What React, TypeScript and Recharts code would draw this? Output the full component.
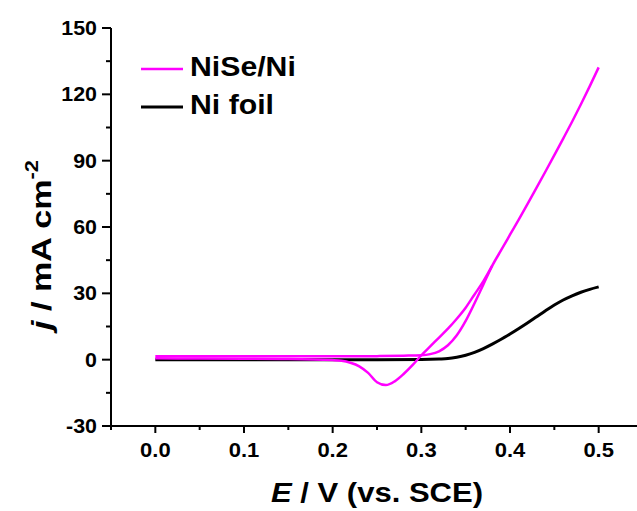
import React from 'react';
import { LineChart, Line, XAxis, YAxis, Legend } from 'recharts';

// NiSe/Ni, anodic sweep (0 -> 0.5 V)
const niseForwardE = [0, 0.05, 0.1, 0.15, 0.2, 0.25, 0.28, 0.3, 0.31, 0.32, 0.33, 0.34, 0.35, 0.36, 0.37, 0.38, 0.39, 0.4, 0.41, 0.42, 0.43, 0.44, 0.45, 0.46, 0.47, 0.48, 0.49, 0.5];
const niseForwardJ = [1.5, 1.5, 1.5, 1.5, 1.5, 1.6, 1.8, 2.0, 2.5, 3.8, 6.5, 11, 17.5, 25.5, 34, 42.5, 49.5, 56.5, 63.5, 70.6, 77.8, 85.1, 92.5, 100, 107.6, 115.5, 123.7, 132.2];

// NiSe/Ni, cathodic sweep (0.5 -> 0 V), listed by rising E
const niseReverseE = [0, 0.05, 0.1, 0.15, 0.2, 0.21, 0.22, 0.23, 0.24, 0.25, 0.26, 0.27, 0.28, 0.29, 0.3, 0.31, 0.32, 0.33, 0.34, 0.35, 0.36, 0.37, 0.38];
const niseReverseJ = [0.6, 0.5, 0.4, 0.3, -0.2, -0.5, -1.4, -3, -6, -10.2, -11.5, -9.8, -6.5, -2.5, 2, 6, 10, 14, 18.5, 23.5, 29.5, 35.5, 42.5];

// Ni foil
const niFoilE = [0, 0.05, 0.1, 0.15, 0.2, 0.25, 0.3, 0.32, 0.33, 0.34, 0.35, 0.36, 0.37, 0.38, 0.39, 0.4, 0.41, 0.42, 0.43, 0.44, 0.45, 0.46, 0.47, 0.48, 0.49, 0.5];
const niFoilJ = [0, 0, 0, 0, 0, 0, 0.1, 0.3, 0.5, 1.1, 2, 3.3, 5, 7, 9.2, 11.6, 14.1, 16.7, 19.4, 22.1, 24.7, 27, 28.9, 30.5, 31.8, 32.9];

const xTicks = [-0.05, 0, 0.05, 0.1, 0.15, 0.2, 0.25, 0.3, 0.35, 0.4, 0.45, 0.5, 0.55];
const yTicks = [-30, -15, 0, 15, 30, 45, 60, 75, 90, 105, 120, 135, 150];

const legendItems = [
  { name: 'NiSe/Ni', color: '#ff00ff', width: 2.5 },
  { name: 'Ni foil', color: '#000000', width: 3 },
];

const toPoints = (e: number[], j: number[]) => e.map((v, i) => ({ E: v, j: j[i] }));
const niseForward = toPoints(niseForwardE, niseForwardJ);
const niseReverse = toPoints(niseReverseE, niseReverseJ);
const niFoil = toPoints(niFoilE, niFoilJ);

const FONT = '"Liberation Sans", Arial, sans-serif';

const XTick = (props: any) => {
  const { x, y, payload } = props;
  const v = payload.value;
  const major = Math.round(v * 100) % 10 === 0;
  return (
    <g>
      <line x1={x} y1={y} x2={x} y2={y + (major ? 7 : 4)} stroke="#000" strokeWidth={2} />
      {major && (
        <text transform={`translate(${x},${y + 31}) scale(1.1,1)`} textAnchor="middle"
          fontFamily={FONT} fontWeight="bold" fontSize={20} fill="#000">
          {v.toFixed(1)}
        </text>
      )}
    </g>
  );
};

const YTick = (props: any) => {
  const { x, y, payload } = props;
  const v = payload.value;
  const major = Math.round(v) % 30 === 0;
  return (
    <g>
      <line x1={x} y1={y} x2={x - (major ? 9 : 5)} y2={y} stroke="#000" strokeWidth={2} />
      {major && (
        <text transform={`translate(${x - 14},${y + 7}) scale(1.07,1)`} textAnchor="end"
          fontFamily={FONT} fontWeight="bold" fontSize={20} fill="#000">
          {v}
        </text>
      )}
    </g>
  );
};

const XTitle = (props: any) => {
  const { viewBox } = props;
  const cx = viewBox.x + viewBox.width / 2;
  return (
    <text transform={`translate(${cx},${viewBox.y + 76}) scale(1.15,1)`} textAnchor="middle"
      fontFamily={FONT} fontWeight="bold" fontSize={27} fill="#000">
      <tspan fontStyle="italic">E</tspan>
      <tspan> / V (vs. SCE)</tspan>
    </text>
  );
};

const YTitle = (props: any) => {
  const { viewBox } = props;
  const bx = viewBox.x + 51;
  const by = viewBox.y + viewBox.height - 96;
  return (
    <text transform={`translate(${bx},${by}) rotate(-90) scale(1.22,1)`} textAnchor="start"
      fontFamily={FONT} fontWeight="bold" fontSize={28} fill="#000">
      <tspan fontStyle="italic">j</tspan>
      <tspan> / mA cm</tspan>
      <tspan dy={-13} fontSize={18}>-2</tspan>
    </text>
  );
};

const renderLegend = () => (
  <svg width={200} height={80}>
    {legendItems.map((item, i) => (
      <g key={item.name}>
        <line x1={6} x2={48} y1={24 + i * 38} y2={24 + i * 38} stroke={item.color} strokeWidth={item.width} />
        <text transform={`translate(55,${31 + i * 38}) scale(1.12,1)`} fontFamily={FONT}
          fontWeight="bold" fontSize={27} fill="#000">
          {item.name}
        </text>
      </g>
    ))}
  </svg>
);

export default function App() {
  return (
    <div style={{ position: 'fixed', left: 0, top: 0, width: 637, height: 511, overflow: 'hidden', background: '#fff' }}>
      <LineChart width={650} height={511} margin={{ top: 28, right: 7, left: 0, bottom: 0 }}>
        <XAxis dataKey="E" type="number" domain={[-0.05, 0.55]} ticks={xTicks} interval={0}
          height={85} tickSize={0} tickMargin={0} tickLine={false} tick={XTick}
          axisLine={{ stroke: '#000', strokeWidth: 2 }} allowDataOverflow label={<XTitle />} />
        <XAxis xAxisId="top" dataKey="E" type="number" orientation="top" domain={[-0.05, 0.55]}
          height={0} tick={false} tickLine={false} axisLine={{ stroke: '#000', strokeWidth: 2 }} />
        <YAxis type="number" domain={[-30, 150]} ticks={yTicks} interval={0} width={111}
          tickSize={0} tickMargin={0} tickLine={false} tick={YTick}
          axisLine={{ stroke: '#000', strokeWidth: 2 }} allowDataOverflow label={<YTitle />} />
        <Legend layout="vertical" verticalAlign="middle" align="center" content={renderLegend}
          wrapperStyle={{ left: 135, top: 45, width: 200, height: 80 }} />
        <Line data={niFoil} dataKey="j" name="Ni foil" type="monotone" stroke="#000000"
          strokeWidth={3} dot={false} isAnimationActive={false} />
        <Line data={niseForward} dataKey="j" name="NiSe/Ni" type="monotone" stroke="#ff00ff"
          strokeWidth={2.5} dot={false} isAnimationActive={false} />
        <Line data={niseReverse} dataKey="j" name="NiSe/Ni reverse" type="monotone" stroke="#ff00ff"
          strokeWidth={2.5} dot={false} isAnimationActive={false} legendType="none" />
      </LineChart>
    </div>
  );
}
